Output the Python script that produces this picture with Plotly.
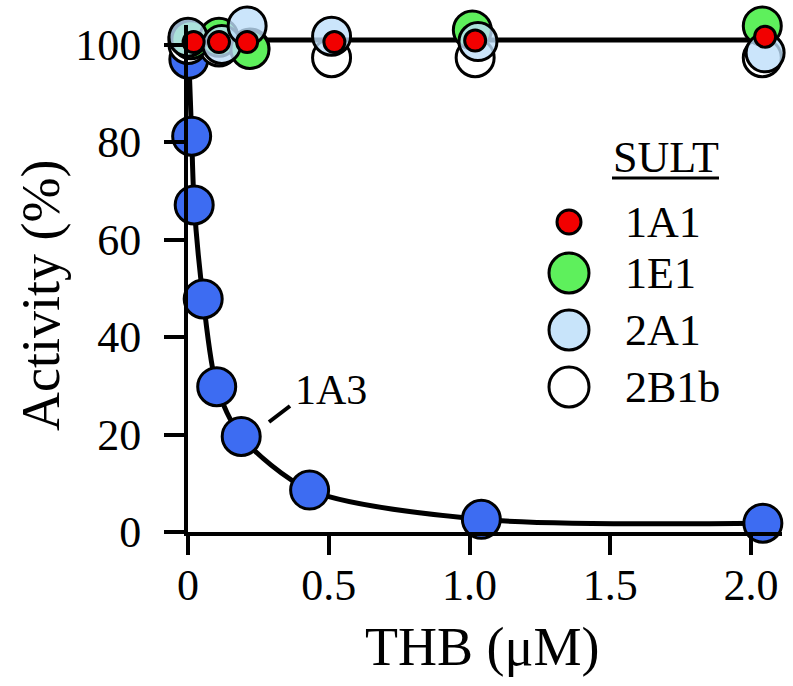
import plotly.graph_objects as go

# ---------------- data ----------------
x_1A3 = [0.0, 0.003, 0.013, 0.022, 0.054, 0.102, 0.189, 0.432, 1.042, 2.042]
y_1A3 = [101.0, 97.0, 81.2, 67.1, 47.8, 29.8, 19.6, 8.6, 2.6, 1.8]

x_1A1 = [0.02, 0.11, 0.21, 0.52, 1.02, 2.05]
y_1A1 = [100.5, 100.5, 100.5, 100.5, 100.8, 101.6]

x_1E1 = [0.01, 0.11, 0.22, 0.50, 1.01, 2.04]
y_1E1 = [101.0, 101.5, 99.0, 104.4, 103.0, 103.8]

x_2A1 = [0.0, 0.12, 0.21, 0.51, 1.03, 2.05]
y_2A1 = [101.5, 100.0, 103.8, 101.7, 100.6, 98.3]

x_2B1b = [0.0, 0.11, 0.22, 0.51, 1.02, 2.04]
y_2B1b = [100.0, 99.5, 99.3, 97.3, 97.3, 97.3]

x_ctrl_fit = [0.0, 2.05]
y_ctrl_fit = [100.9, 100.9]

x_ticks = [0, 0.5, 1.0, 1.5, 2.0]
x_ticktext = ["0", "0.5", "1.0", "1.5", "2.0"]
y_ticks = [0, 20, 40, 60, 80, 100]

legend_names = ["1A1", "1E1", "2A1", "2B1b"]

# ---------------- style ----------------
FONT = "Liberation Serif, Times New Roman, Times, serif"
BLUE = "#3d6cf2"
RED = "#f20000"
GREEN = "#5ef05c"
LBLUE = "rgba(190,222,250,0.8)"
WHITE = "white"

W, H = 793, 686
ML, MR, MT, MB = 188, 11, 25, 154
PW, PH = W - ML - MR, H - MT - MB

fig = go.Figure()

# fit lines
fig.add_trace(go.Scatter(x=x_ctrl_fit, y=y_ctrl_fit, mode="lines",
                         line=dict(color="black", width=5), showlegend=False))
fig.add_trace(go.Scatter(x=x_1A3, y=y_1A3, mode="lines",
                         line=dict(color="black", width=5, shape="spline", smoothing=0.8),
                         showlegend=False))

mk_line = dict(color="black", width=3)
fig.add_trace(go.Scatter(x=x_1A3, y=y_1A3, mode="markers", name="1A3", cliponaxis=False,
                         marker=dict(size=38, color=BLUE, line=mk_line), showlegend=False))
fig.add_trace(go.Scatter(x=x_2B1b, y=y_2B1b, mode="markers", name="2B1b", cliponaxis=False,
                         marker=dict(size=38, color=WHITE, line=mk_line), showlegend=False))
fig.add_trace(go.Scatter(x=x_1E1, y=y_1E1, mode="markers", name="1E1", cliponaxis=False,
                         marker=dict(size=38, color=GREEN, line=mk_line), showlegend=False))
fig.add_trace(go.Scatter(x=x_2A1, y=y_2A1, mode="markers", name="2A1", cliponaxis=False,
                         marker=dict(size=38, color=LBLUE, line=mk_line), showlegend=False))
fig.add_trace(go.Scatter(x=x_1A1, y=y_1A1, mode="markers", name="1A1", cliponaxis=False,
                         marker=dict(size=21, color=RED, line=mk_line), showlegend=False))

# ---------------- manual legend ----------------
def px2paper(px, py):
    return (px - ML) / PW, (H - MB - py) / PH

shapes = []
annotations = []
leg_rows_py = [222, 273, 330, 387]
leg_colors = [RED, GREEN, "#c8e4fa", WHITE]
leg_r = [12, 20, 20, 20]
for name, py, col, r in zip(legend_names, leg_rows_py, leg_colors, leg_r):
    ax_, ay_ = px2paper(569, py)
    shapes.append(dict(type="circle", xref="paper", yref="paper",
                       xsizemode="pixel", ysizemode="pixel",
                       xanchor=ax_, yanchor=ay_, x0=-r, x1=r, y0=-r, y1=r,
                       fillcolor=col, line=dict(color="black", width=3)))
    tx, ty = px2paper(623, py)
    annotations.append(dict(text=name, x=tx, y=ty, xref="paper", yref="paper",
                            xanchor="left", yanchor="middle", showarrow=False,
                            font=dict(family=FONT, size=44, color="black")))

sx, sy = px2paper(666, 157)
annotations.append(dict(text="SULT", x=sx, y=sy, xref="paper", yref="paper",
                        xanchor="center", yanchor="middle", showarrow=False,
                        font=dict(family=FONT, size=44, color="black")))
u0x, u0y = px2paper(612, 178)
u1x, _ = px2paper(719, 178)
shapes.append(dict(type="line", xref="paper", yref="paper", x0=u0x, x1=u1x, y0=u0y, y1=u0y,
                   line=dict(color="black", width=3)))

# 1A3 label with leader line
lx, ly = px2paper(331, 390)
annotations.append(dict(text="1A3", x=lx, y=ly, xref="paper", yref="paper",
                        xanchor="center", yanchor="middle", showarrow=False,
                        font=dict(family=FONT, size=42, color="black")))
l0x, l0y = px2paper(269, 422)
l1x, l1y = px2paper(290, 406)
shapes.append(dict(type="line", xref="paper", yref="paper", x0=l0x, y0=l0y, x1=l1x, y1=l1y,
                   line=dict(color="black", width=4)))

# y-axis title
yx, yy = px2paper(41, 296)
annotations.append(dict(text="Activity (%)", x=yx, y=yy, xref="paper", yref="paper",
                        xanchor="center", yanchor="middle", showarrow=False, textangle=-90,
                        font=dict(family=FONT, size=54, color="black")))

# x-axis title
xx, xy = px2paper(482, 647)
annotations.append(dict(text="THB (μM)", x=xx, y=xy, xref="paper", yref="paper",
                        xanchor="center", yanchor="middle", showarrow=False,
                        font=dict(family=FONT, size=54, color="black")))

fig.update_layout(
    template="none",
    width=W, height=H,
    margin=dict(l=ML, r=MR, t=MT, b=MB, pad=0),
    paper_bgcolor="white", plot_bgcolor="white",
    showlegend=False,
    shapes=shapes, annotations=annotations,
    font=dict(family=FONT, color="black"),
)
fig.update_xaxes(range=[0, 2.11], tickvals=x_ticks, ticktext=x_ticktext,
                 ticks="outside", ticklen=19, tickwidth=4, tickcolor="black",
                 showline=True, linewidth=4, linecolor="black",
                 showgrid=False, zeroline=False, automargin=False,
                 tickfont=dict(family=FONT, size=44, color="black"),
                 ticklabelstandoff=-8)
fig.update_yaxes(range=[0, 104], tickvals=y_ticks,
                 ticks="outside", ticklen=20, tickwidth=4, tickcolor="black",
                 showline=True, linewidth=4, linecolor="black",
                 showgrid=False, zeroline=False, automargin=False,
                 tickfont=dict(family=FONT, size=44, color="black"),
                 ticklabelstandoff=14)

fig.write_html("out.html",
               config={"displayModeBar": False},
               post_script="document.body.style.margin='0';document.body.style.overflow='hidden';")
